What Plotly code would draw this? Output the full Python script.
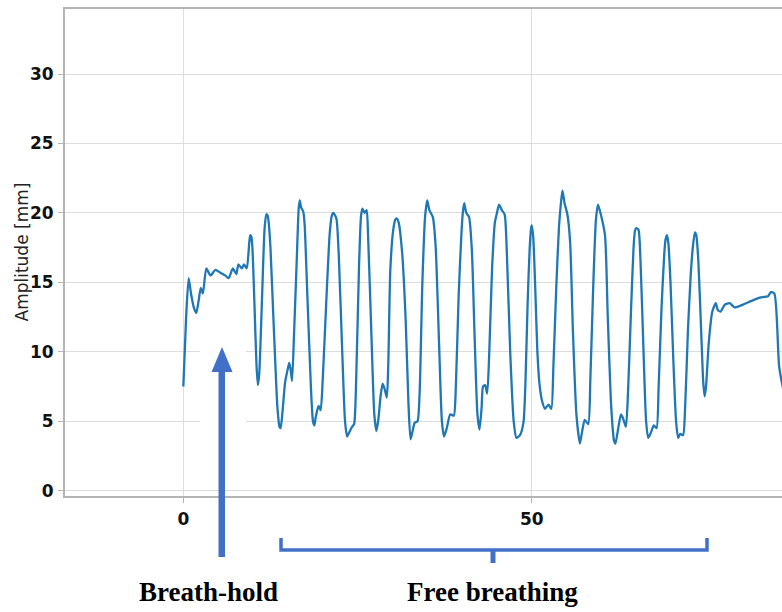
import plotly.graph_objects as go

# ---- data ----
time_s = [0.0, 0.4, 0.76, 1.1, 1.5, 1.86, 2.2, 2.5, 2.8, 3.3, 3.9, 4.6, 5.3, 6.0, 6.5, 7.1, 7.6, 7.9, 8.4, 8.7,
          9.1, 9.45, 9.6, 9.75, 9.9, 10.2, 10.5, 10.7, 10.9, 11.3, 11.65, 11.9, 12.1, 12.25, 12.5, 13.0, 13.5,
          13.8, 13.95, 14.2, 14.6, 15.0, 15.2, 15.4, 15.6, 15.9, 16.3, 16.55, 16.7, 16.9, 17.2, 17.4, 17.8,
          18.3, 18.6, 18.8, 19.0, 19.4, 19.7, 20.0, 20.5, 21.0, 21.3, 21.5, 21.8, 22.0, 22.3, 22.8, 23.2,
          23.5, 23.8, 24.2, 24.5, 24.8, 25.2, 25.5, 25.7, 26.0, 26.3, 26.5, 27.0, 27.4, 27.7, 28.0, 28.3,
          28.6, 28.9, 29.2, 29.4, 29.7, 30.1, 30.4, 30.6, 30.9, 31.4, 31.9, 32.3, 32.6, 32.9, 33.2, 33.6,
          33.9, 34.3, 34.7, 35.0, 35.3, 35.8, 36.2, 36.7, 37.1, 37.4, 37.8, 38.3, 38.8, 39.1, 39.5, 39.9,
          40.1, 40.3, 40.6, 41.0, 41.4, 41.8, 42.2, 42.5, 42.8, 43.0, 43.3, 43.6, 43.9, 44.3, 44.7, 45.0,
          45.3, 45.7, 46.1, 46.4, 46.9, 47.4, 47.8, 48.3, 48.8, 49.1, 49.4, 49.7, 49.9, 50.0, 50.2, 50.5,
          50.8, 51.1, 51.5, 51.9, 52.4, 52.8, 53.1, 53.5, 53.9, 54.2, 54.4, 54.7, 55.1, 55.5, 55.9, 56.4,
          56.9, 57.2, 57.6, 58.1, 58.4, 58.8, 59.2, 59.5, 59.9, 60.5, 60.9, 61.4, 61.8, 62.0, 62.4, 62.8,
          63.1, 63.5, 63.8, 64.2, 64.6, 64.8, 65.0, 65.3, 65.6, 66.0, 66.4, 66.7, 67.1, 67.5, 67.9, 68.2,
          68.6, 69.0, 69.2, 69.4, 69.6, 69.9, 70.3, 70.7, 71.0, 71.3, 71.7, 72.0, 72.4, 72.8, 73.1, 73.4,
          73.6, 73.9, 74.3, 74.6, 74.8, 75.0, 75.4, 75.9, 76.4, 76.7, 77.1, 77.7, 78.4, 79.1, 80.3, 81.2,
          82.7, 83.9, 84.3, 84.8, 85.5, 86.2]
amplitude_mm = [7.5, 12.5, 15.3, 14.2, 13.2, 12.8, 13.7, 14.6, 14.2, 16.0, 15.5, 15.9, 15.7, 15.5, 15.3, 16.0,
                15.6, 16.3, 16.0, 16.3, 16.0, 17.8, 18.4, 18.3, 17.6, 13.5, 9.0, 7.6, 8.5, 14.0, 18.8, 19.9,
                19.8, 19.3, 17.5, 11.5, 6.0, 4.6, 4.5, 5.5, 7.8, 8.8, 9.2, 8.7, 7.9, 11.5, 17.0, 20.3, 20.9,
                20.4, 20.1, 19.2, 14.0, 7.5, 5.0, 4.7, 5.3, 6.1, 5.8, 8.0, 13.5, 18.5, 19.8, 20.0, 19.8, 19.5,
                17.0, 10.0, 5.0, 3.9, 4.2, 4.6, 4.8, 8.0, 16.0, 19.8, 20.3, 20.0, 20.2, 18.5, 11.0, 5.5, 4.3,
                5.2, 6.8, 7.7, 7.3, 6.7, 9.0, 15.9, 18.7, 19.5, 19.6, 19.3, 17.1, 12.3, 6.3, 3.7, 4.3, 4.9,
                5.0, 7.0, 15.0, 19.8, 20.9, 20.2, 19.7, 17.6, 10.5, 5.0, 3.9, 4.5, 5.5, 5.4, 7.5, 14.0, 18.5,
                20.0, 20.7, 20.0, 19.7, 17.3, 11.0, 5.5, 4.4, 6.0, 7.5, 7.6, 7.0, 10.0, 16.0, 19.3, 20.0, 20.6,
                20.2, 19.9, 17.4, 10.0, 5.0, 3.8, 4.0, 4.9, 8.0, 13.5, 17.5, 18.9, 19.1, 18.3, 14.5, 10.0, 7.7,
                6.4, 5.9, 6.2, 5.9, 9.0, 14.5, 19.0, 20.8, 21.6, 20.7, 19.9, 17.9, 11.5, 5.5, 3.4, 4.2, 5.1,
                4.8, 8.0, 14.5, 19.5, 20.6, 19.9, 18.4, 12.5, 6.0, 3.6, 3.4, 4.5, 5.5, 5.2, 4.6, 7.0, 12.5,
                17.5, 18.7, 18.9, 18.8, 16.5, 10.5, 5.0, 3.8, 4.2, 4.7, 4.5, 7.5, 13.0, 17.0, 18.1, 18.4, 17.8,
                15.0, 9.5, 5.0, 3.8, 4.1, 4.0, 6.0, 11.5, 15.5, 17.5, 18.6, 18.4, 16.5, 11.5, 7.8, 6.8, 7.5,
                10.7, 12.9, 13.5, 13.0, 12.9, 13.4, 13.5, 13.2, 13.4, 13.6, 13.9, 14.0, 14.3, 14.2, 8.9, 7.0]
x_ticks = [0, 50]
y_ticks = [0, 5, 10, 15, 20, 25, 30]
y_title = "Amplitude [mm]"
phase_labels = ["Breath-hold", "Free breathing"]

# ---- layout geometry (pixels) ----
W, H = 782, 612
L, R, T, B = 65, 0, 9, 116
PW, PH = W - L - R, H - T - B


def px(x):
    return (x - L) / PW


def py(y):
    return (H - B - y) / PH


BLUE = "#4270c6"

fig = go.Figure()
fig.add_trace(go.Scatter(x=time_s, y=amplitude_mm, mode="lines",
                         line=dict(color="#1f77b4", width=2.3, shape="spline", smoothing=0.6),
                         showlegend=False, hoverinfo="skip"))

axis_common = dict(showgrid=True, gridcolor="#dcdcdc", gridwidth=1.3, zeroline=False,
                   showline=True, linecolor="#b4b4b4", linewidth=2,
                   ticks="outside", ticklen=5, tickcolor="#b4b4b4", tickwidth=1,
                   tickfont=dict(family="DejaVu Sans", size=17, color="#111111", weight="bold"))

fig.update_xaxes(range=[-16.98, 85.9], tickvals=x_ticks, mirror=True,
                 ticklabelstandoff=2, **axis_common)
fig.update_yaxes(range=[-0.38, 34.68], tickvals=y_ticks, mirror=False,
                 ticklabelstandoff=1, **axis_common)

shapes = []
# white patch behind the arrow (covers the gridlines as in the reference)
shapes.append(dict(type="rect", xref="paper", yref="paper", layer="above",
                   x0=px(200), x1=px(246), y0=py(478), y1=py(336),
                   fillcolor="white", line=dict(width=0)))
# arrow shaft
shapes.append(dict(type="rect", xref="paper", yref="paper", layer="above",
                   x0=px(218.5), x1=px(225), y0=py(557), y1=py(370),
                   fillcolor=BLUE, line=dict(width=0)))
# arrow head
shapes.append(dict(type="path", xref="paper", yref="paper", layer="above",
                   path=f"M {px(211.5)},{py(372)} L {px(222)},{py(347)} L {px(232.5)},{py(372)} Z",
                   fillcolor=BLUE, line=dict(width=0)))
# brace
shapes.append(dict(type="path", xref="paper", yref="paper", layer="above",
                   path=(f"M {px(281)},{py(538)} L {px(281)},{py(550)} "
                         f"L {px(707)},{py(550)} L {px(707)},{py(538)}"),
                   line=dict(color=BLUE, width=3.5)))
shapes.append(dict(type="line", xref="paper", yref="paper", layer="above",
                   x0=px(493), x1=px(493), y0=py(550), y1=py(563),
                   line=dict(color=BLUE, width=5)))

annotations = [
    dict(text=y_title, xref="paper", yref="paper", x=px(21), y=0.5, textangle=-90,
         showarrow=False, xanchor="center", yanchor="middle",
         font=dict(family="DejaVu Sans", size=17, color="#222222")),
    dict(text=phase_labels[0], xref="paper", yref="paper", x=px(208.5), y=py(592),
         showarrow=False, xanchor="center", yanchor="middle",
         font=dict(family="Liberation Serif", size=27, color="#000000", weight="bold")),
    dict(text=phase_labels[1], xref="paper", yref="paper", x=px(492.5), y=py(592),
         showarrow=False, xanchor="center", yanchor="middle",
         font=dict(family="Liberation Serif", size=27, color="#000000", weight="bold")),
]

fig.update_layout(width=W, height=H, margin=dict(l=L, r=R, t=T, b=B),
                  paper_bgcolor="white", plot_bgcolor="white",
                  shapes=shapes, annotations=annotations, showlegend=False)

fig.write_html("out.html")
